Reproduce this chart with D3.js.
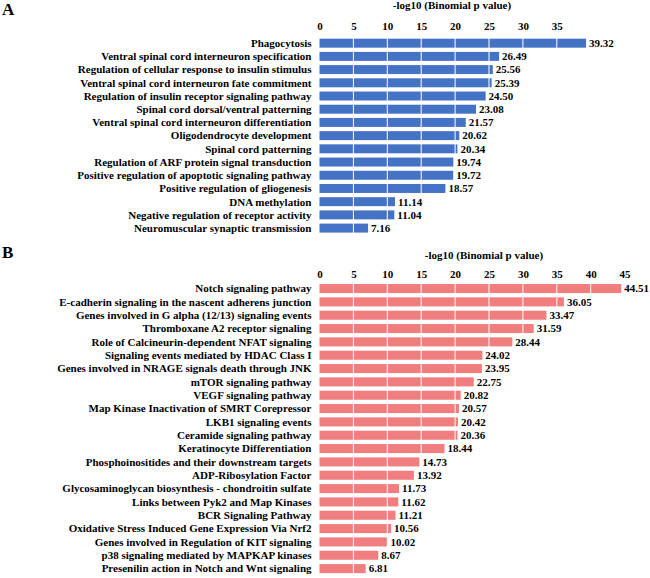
<!DOCTYPE html>
<html><head><meta charset="utf-8">
<script src="https://cdn.jsdelivr.net/npm/d3@7"></script>
<style>
body{margin:0;background:#fff;}
svg text{font-family:"Liberation Serif","Times New Roman",serif;font-weight:bold;fill:#000;}
</style></head>
<body><svg id="c" width="650" height="578"></svg>
<script>
const axisTitle = "-log10 (Binomial p value)";

const catsA = ["Phagocytosis","Ventral spinal cord interneuron specification","Regulation of cellular response to insulin stimulus","Ventral spinal cord interneuron fate commitment","Regulation of insulin receptor signaling pathway","Spinal cord dorsal/ventral patterning","Ventral spinal cord interneuron differentiation","Oligodendrocyte development","Spinal cord patterning","Regulation of ARF protein signal transduction","Positive regulation of apoptotic signaling pathway","Positive regulation of gliogenesis","DNA methylation","Negative regulation of receptor activity","Neuromuscular synaptic transmission"];
const valsA = [39.32,26.49,25.56,25.39,24.50,23.08,21.57,20.62,20.34,19.74,19.72,18.57,11.14,11.04,7.16];
const ticksA = [0,5,10,15,20,25,30,35];

const catsB = ["Notch signaling pathway","E-cadherin signaling in the nascent adherens junction","Genes involved in G alpha (12/13) signaling events","Thromboxane A2 receptor signaling","Role of Calcineurin-dependent NFAT signaling","Signaling events mediated by HDAC Class I","Genes involved in NRAGE signals death through JNK","mTOR signaling pathway","VEGF signaling pathway","Map Kinase Inactivation of SMRT Corepressor","LKB1 signaling events","Ceramide signaling pathway","Keratinocyte Differentiation","Phosphoinositides and their downstream targets","ADP-Ribosylation Factor","Glycosaminoglycan biosynthesis - chondroitin sulfate","Links between Pyk2 and Map Kinases","BCR Signaling Pathway","Oxidative Stress Induced Gene Expression Via Nrf2","Genes involved in Regulation of KIT signaling","p38 signaling mediated by MAPKAP kinases","Presenilin action in Notch and Wnt signaling"];
const valsB = [44.51,36.05,33.47,31.59,28.44,24.02,23.95,22.75,20.82,20.57,20.42,20.36,18.44,14.73,13.92,11.73,11.62,11.21,10.56,10.02,8.67,6.81];
const ticksB = [0,5,10,15,20,25,30,35,40,45];

const svg = d3.select("#c");
const pxPerUnit = 6.78, x0 = 319.5;

function panel(cfg){
  const g = svg.append("g");
  const n = cfg.cats.length;
  const x = d3.scaleLinear().domain([0, cfg.max]).range([x0, x0 + cfg.max*pxPerUnit]);
  const y = d3.scaleBand().domain(cfg.cats)
     .range([cfg.firstY - cfg.step/2, cfg.firstY + (n-0.5)*cfg.step]).padding(0.32);
  // letter
  g.append("text").attr("x",2).attr("y",cfg.letterY).attr("font-size",17).text(cfg.letter);
  // title
  g.append("text").attr("x",cfg.titleX).attr("y",cfg.titleY).attr("text-anchor","middle")
    .attr("font-size",11).text(axisTitle);
  // axis
  const ax = d3.axisTop(x).tickValues(cfg.ticks).tickSize(0).tickPadding(0).tickFormat(d3.format("d"));
  const axg = g.append("g").attr("transform",`translate(0,${cfg.tickY})`).call(ax);
  axg.select(".domain").remove();
  axg.selectAll("text").attr("font-size",11).attr("dy",0).style("font-family",'"Liberation Serif",serif').style("font-weight","bold");
  // bars
  g.selectAll("rect.bar").data(cfg.vals).join("rect").attr("class","bar")
    .attr("x",x(0)).attr("y",(d,i)=>y(cfg.cats[i]))
    .attr("width",d=>x(d)-x(0)).attr("height",y.bandwidth()).attr("fill",cfg.color);
  // gridlines (white, over bars)
  g.selectAll("line.grid").data(cfg.ticks.filter(t=>t>0)).join("line").attr("class","grid")
    .attr("x1",d=>x(d)).attr("x2",d=>x(d))
    .attr("y1",y.range()[0]).attr("y2",y.range()[1])
    .attr("stroke","#fff").attr("stroke-width",1);
  // category labels
  g.selectAll("text.cat").data(cfg.cats).join("text").attr("class","cat")
    .attr("x",x(0)-8).attr("y",d=>y(d)+y.bandwidth()/2).attr("dy","0.35em")
    .attr("text-anchor","end").attr("font-size",11).text(d=>d);
  // value labels
  g.selectAll("text.val").data(cfg.vals).join("text").attr("class","val")
    .attr("x",d=>x(d)+3).attr("y",(d,i)=>y(cfg.cats[i])+y.bandwidth()/2).attr("dy","0.35em")
    .attr("font-size",11).text(d=>d.toFixed(2));
}

panel({letter:"A",letterY:15,cats:catsA,vals:valsA,ticks:ticksA,max:40,firstY:41.2,step:13.49,
       color:"#4472C4",titleX:452,titleY:9,tickY:30});
panel({letter:"B",letterY:258,cats:catsB,vals:valsB,ticks:ticksB,max:48,firstY:286.5,step:13.53,
       color:"#F07E7E",titleX:484,titleY:259,tickY:278});
</script></body></html>
